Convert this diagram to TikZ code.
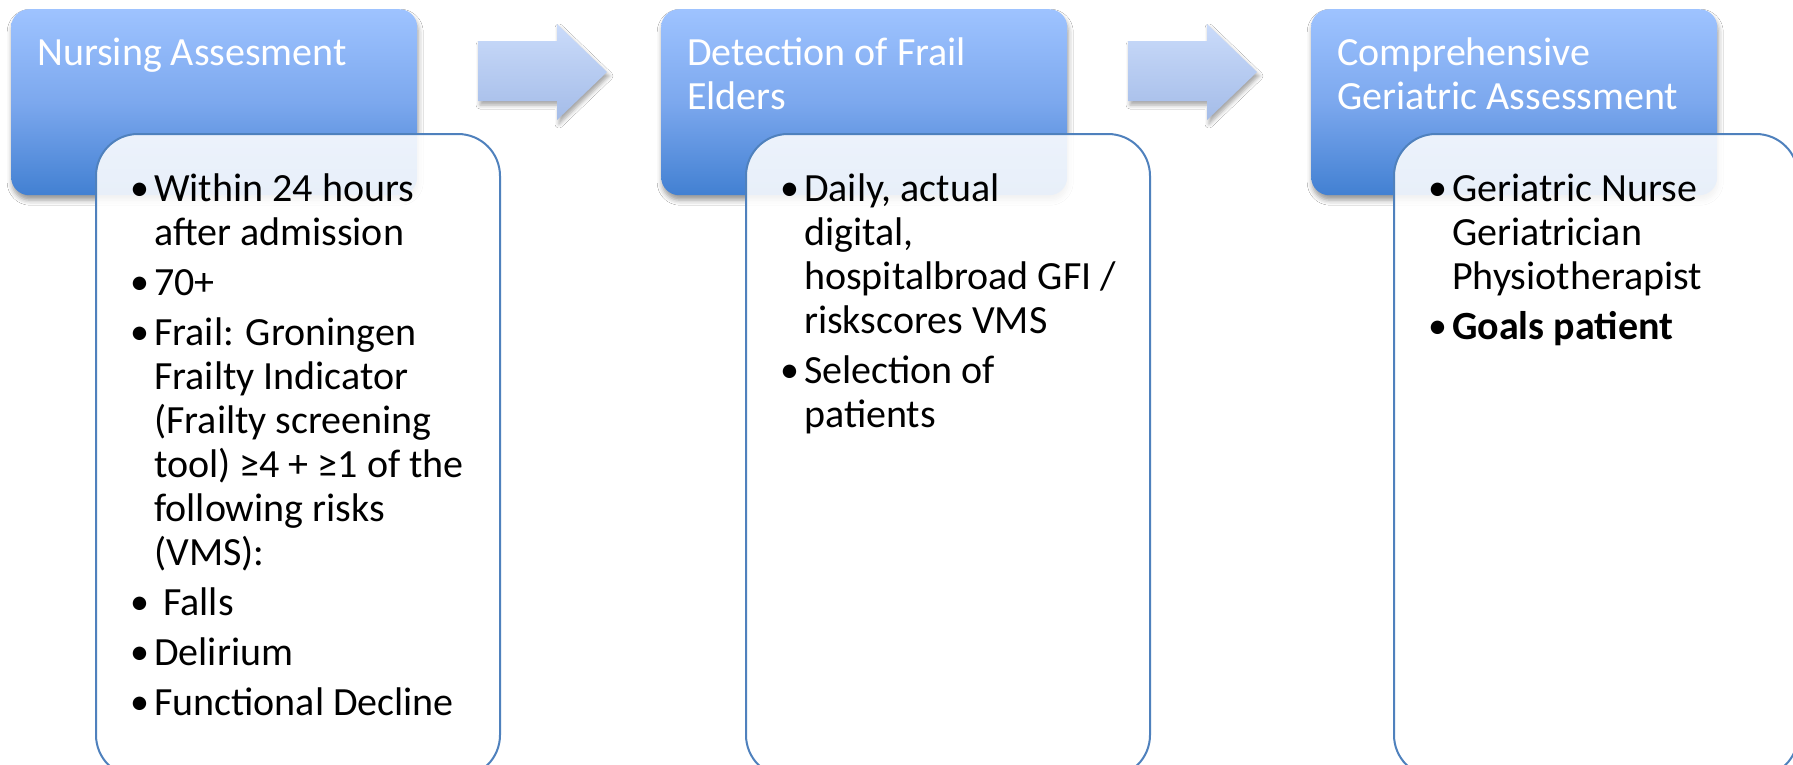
\documentclass[tikz,border=0pt]{standalone}
\usepackage{fontspec}
\setmainfont{Carlito}
\usetikzlibrary{shadows.blur}
\definecolor{tboxtop}{RGB}{158,195,255}
\definecolor{tboxmid}{RGB}{124,168,238}
\definecolor{tboxbot}{RGB}{66,128,210}
\definecolor{bborder}{RGB}{79,129,189}
\definecolor{arrtop}{RGB}{202,219,250}
\definecolor{arrbot}{RGB}{164,188,232}
\begin{document}
\begin{tikzpicture}[x=1pt,y=-1pt,
  topbox/.style={rectangle, rounded corners=18pt, minimum width=406pt, minimum height=186pt,
    anchor=north west, inner sep=0pt, draw=none,
    top color=tboxtop, bottom color=tboxbot, middle color=tboxmid,
    blur shadow={shadow xshift=1pt, shadow yshift=-5pt, shadow blur radius=5pt, shadow opacity=40}},
  subbox/.style={rectangle, rounded corners=42pt, minimum width=404pt, minimum height=643pt,
    anchor=north west, inner sep=0pt, fill=white, fill opacity=0.88, draw=bborder, line width=2pt},
  flowarrow/.style={top color=arrtop, bottom color=arrbot, draw=none,
    blur shadow={shadow xshift=2pt, shadow yshift=-4pt, shadow blur radius=4pt, shadow opacity=35}},
  title/.style={font=\fontsize{40}{44}\selectfont, text=white, align=left, anchor=base west, inner sep=0pt},
  body/.style={font=\fontsize{40}{44}\selectfont, text=black, align=left, anchor=base west, inner sep=0pt},
  dot/.style={font=\fontsize{38}{44}\selectfont, text=black, anchor=base west, inner sep=0pt}
]
\useasboundingbox (0,0) rectangle (1793,764);
\fill[white] (0,0) rectangle (1793,764);
\clip (0,0) rectangle (1793,764);

% (anchor base = baseline of the LAST line of a multi-line node)
% ---------- column 1 ----------
\node[topbox] (h1) at (11,9) {};
\node[title] (t1) at (37,65) {Nursing Assesment};
\node[subbox] (s1) at (95,133) {};
\node[dot] (d1a) at (130,200) {•};
\node[body] (b1a) at (154,245) {Within 24 hours\\after admission};
\node[dot] (d1b) at (130,294) {•};
\node[body] (b1b) at (154,295) {70+};
\node[dot] (d1c) at (130,344) {•};
\node[body] (b1c) at (154,565) {Frail: Groningen\\Frailty Indicator\\(Frailty screening\\tool) ≥4 + ≥1 of the\\following risks\\(VMS):};
\node[dot] (d1d) at (130,614) {•};
\node[body] (b1d) at (163,615) {Falls};
\node[dot] (d1e) at (130,664) {•};
\node[body] (b1e) at (154,665) {Delirium};
\node[dot] (d1f) at (130,714) {•};
\node[body] (b1f) at (154,715) {Functional Decline};

% ---------- arrow 1 ----------
\path[flowarrow] (478,41) -- (557,41) -- (557,24) -- (607,72) -- (557,120) -- (557,101) -- (478,101) -- cycle;

% ---------- column 2 ----------
\node[topbox] (h2) at (661,9) {};
\node[title] (t2) at (687,109) {Detection of Frail\\Elders};
\node[subbox] (s2) at (745,133) {};
\node[dot] (d2a) at (780,200) {•};
\node[body] (b2a) at (804,333) {Daily, actual\\digital,\\hospitalbroad GFI /\\riskscores VMS};
\node[dot] (d2b) at (780,382) {•};
\node[body] (b2b) at (804,427) {Selection of\\patients};

% ---------- arrow 2 ----------
\path[flowarrow] (1128,41) -- (1207,41) -- (1207,24) -- (1257,72) -- (1207,120) -- (1207,101) -- (1128,101) -- cycle;

% ---------- column 3 ----------
\node[topbox] (h3) at (1311,9) {};
\node[title] (t3) at (1337,109) {Comprehensive\\Geriatric Assessment};
\node[subbox] (s3) at (1393,133) {};
\node[dot] (d3a) at (1428,200) {•};
\node[body] (b3a) at (1452,289) {Geriatric Nurse\\Geriatrician\\Physiotherapist};
\node[dot] (d3b) at (1428,338) {•};
\node[body] (b3b) at (1452,339) {\bfseries Goals patient};
\end{tikzpicture}
\end{document}
